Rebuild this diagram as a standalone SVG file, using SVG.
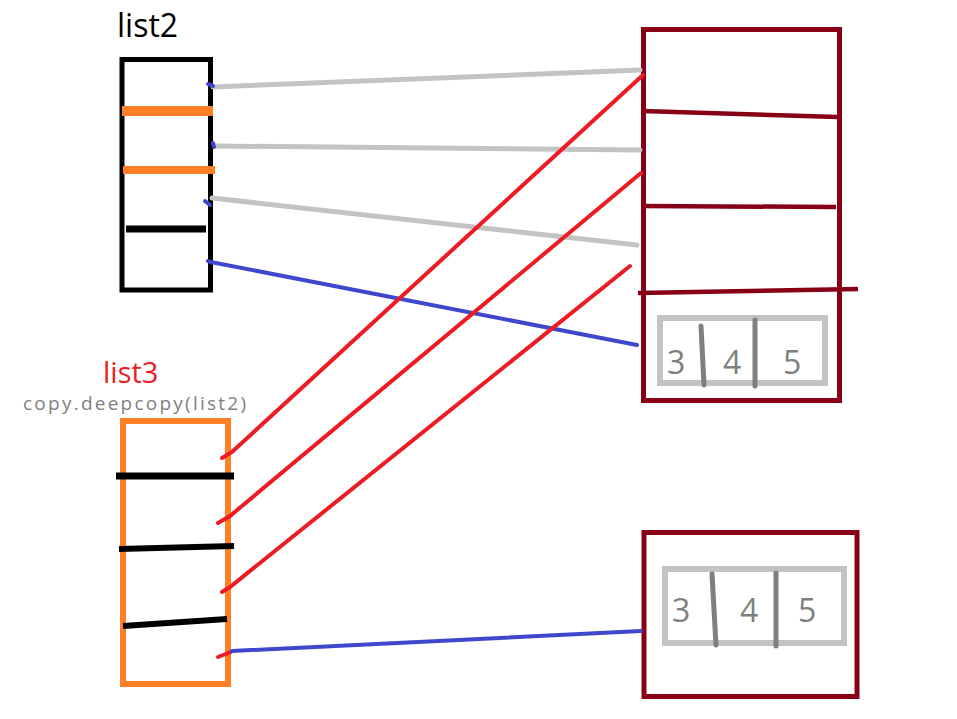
<svg xmlns="http://www.w3.org/2000/svg" width="957" height="719" viewBox="0 0 957 719">
<style>
.t{font-family:"Open Sans","Noto Sans","Liberation Sans",sans-serif}
.lbl{font-size:32px;fill:#000}
.num{font-size:32px;fill:#7f7f7f}
.gray{stroke:#c3c3c3;stroke-width:5;fill:none;stroke-linecap:round}
.red{stroke:#ed1c24;stroke-width:4;fill:none;stroke-linecap:round}
.blue{stroke:#3f48cc;stroke-width:4;fill:none;stroke-linecap:round}
.dr{stroke:#880015;fill:none}
.dg{stroke:#7f7f7f;stroke-width:5;stroke-linecap:round;fill:none}
</style>
<rect width="957" height="719" fill="#fff"/>
<g id="list2">
<text class="t lbl" x="117" y="37">list2</text>
<rect x="122" y="59.5" width="88.5" height="230.5" fill="none" stroke="#000" stroke-width="5"/>
<line x1="122" y1="111" x2="213" y2="111" stroke="#ff7f27" stroke-width="10"/>
<line x1="123" y1="170" x2="215" y2="170" stroke="#ff7f27" stroke-width="8"/>
<line x1="126" y1="229" x2="206" y2="229" stroke="#000" stroke-width="7"/>
</g>
<g id="list3">
<text class="t" x="103" y="383" font-size="29" fill="#ed1c24">list3</text>
<text class="t" x="23" y="410" font-size="19" fill="#7f7f7f" textLength="223">copy.deepcopy(list2)</text>
<rect x="123" y="421" width="105" height="263" fill="none" stroke="#ff7f27" stroke-width="6"/>
<line x1="116" y1="476" x2="234" y2="476" stroke="#000" stroke-width="7"/>
<line x1="119" y1="549" x2="234" y2="546" stroke="#000" stroke-width="6"/>
<line x1="123" y1="626" x2="227" y2="619" stroke="#000" stroke-width="6"/>
</g>
<g id="obj1">
<rect class="dr" x="643.5" y="29.5" width="196" height="371" stroke-width="5"/>
<line class="dr" x1="642" y1="111" x2="838" y2="117" stroke-width="4.5"/>
<line class="dr" x1="642" y1="206" x2="836" y2="207" stroke-width="4.5"/>
<line class="dr" x1="638" y1="293" x2="858" y2="289" stroke-width="4.5"/>
<rect x="660" y="318" width="165" height="65" fill="none" stroke="#c3c3c3" stroke-width="6"/>
<line class="dg" x1="701" y1="326" x2="704" y2="385"/>
<line class="dg" x1="755" y1="320" x2="755" y2="386"/>
<text class="t num" x="667" y="374">3</text>
<text class="t num" x="723" y="374">4</text>
<text class="t num" x="783" y="374">5</text>
</g>
<g id="obj2">
<rect class="dr" x="644" y="532.5" width="213" height="164" stroke-width="5"/>
<rect x="665" y="569" width="179" height="74" fill="none" stroke="#c3c3c3" stroke-width="6"/>
<line class="dg" x1="712" y1="574" x2="716" y2="645"/>
<line class="dg" x1="776" y1="573" x2="776" y2="646"/>
<text class="t num" x="672" y="622">3</text>
<text class="t num" x="740" y="622">4</text>
<text class="t num" x="798" y="622">5</text>
</g>
<g id="connectors">
<path class="gray" d="M213 87 L640 70"/>
<path class="gray" d="M216 146 L640 150"/>
<path class="gray" d="M212 198 L637 245"/>
<path class="blue" d="M208 84 L213 86"/>
<path class="blue" d="M213 143 L214 147"/>
<path class="blue" d="M205 201 L210 205"/>
<path class="blue" d="M208 261 Q212 263 216 263 L637 345"/>
<path class="red" d="M222 458 L232 452 L643 75"/>
<path class="red" d="M218 523 L230 516 L641 173"/>
<path class="red" d="M222 592 L230 587 L630 266"/>
<path class="red" d="M218 657 L231 652"/>
<path class="blue" d="M232 651 L641 631"/>
</g>
</svg>
